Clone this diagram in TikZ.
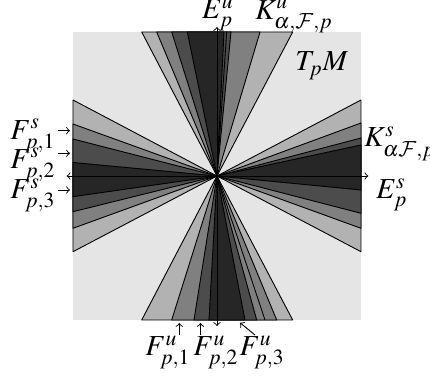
\documentclass[tikz,border=0pt]{standalone}
\usepackage{mathptmx}
\DeclareMathAlphabet{\mathcal}{OMS}{cmsy}{m}{n}
\DeclareMathSizes{14.5}{14.5}{10.8}{8.5}
\definecolor{bg}{gray}{0.9}
\definecolor{ca}{gray}{0.7}
\definecolor{cb}{gray}{0.5}
\definecolor{cc}{gray}{0.3}
\definecolor{cd}{gray}{0.15}
\begin{document}
\begin{tikzpicture}[x=0.5pt,y=-0.5pt,
  lab/.style={inner sep=0pt, anchor=base west, font=\fontsize{14.5}{16}\selectfont},
  cone/.style={draw=black, line width=0.45pt, line join=round},
  axis/.style={draw=black, line width=0.45pt, <->},
  pt/.style={draw=black, line width=0.45pt, ->}]
\useasboundingbox (0,0) rectangle (430,379);
\fill[bg] (73,32) rectangle (361,320);
\coordinate (C) at (217,176);
% top cone
\foreach \col/\a/\b in {ca/-75.3/75.7, cb/-60.3/43, cc/-45.3/14, cd/-29.7/7}
  \filldraw[cone,fill=\col] (C) -- +(\a,-144) -- +(\b,-144) -- cycle;
\draw[cone] (C) -- +(9.7,-144);
% bottom cone
\foreach \col/\a/\b in {ca/-75.3/75.7, cb/-45.3/59.7, cc/-23/39.7, cd/-8/28}
  \filldraw[cone,fill=\col] (C) -- +(\a,144) -- +(\b,144) -- cycle;
\draw[cone] (C) -- +(48,144);
% left cone
\foreach \col/\a/\b in {ca/-76/75.7, cb/-52/52.3, cc/-37/35.7, cd/-13.5/20.7}
  \filldraw[cone,fill=\col] (C) -- +(-144,\a) -- +(-144,\b) -- cycle;
% right cone
\foreach \col/\a/\b in {ca/-76/75.7, cb/-53/52.3, cc/-38/37.3, cd/-31/14}
  \filldraw[cone,fill=\col] (C) -- +(144,\a) -- +(144,\b) -- cycle;
% axes
\coordinate (vt) at (217,27);
\coordinate (vb) at (217,326);
\coordinate (hl) at (66.7,176);
\coordinate (hr) at (368.3,176);
\draw[axis] (vb) -- (vt);
\draw[axis] (hl) -- (hr);
% labels
\node[lab] (Eu) at (201.7,19) {$E^u_p$};
\node[lab] (Ku) at (255,19.5) {$K^u_{\alpha,\mathcal{F},p}$};
\node[lab] (TM) at (295,70.7) {$T_pM$};
\node[lab] (Ks) at (364,147) {$K^s_{\alpha\mathcal{F},p}$};
\node[lab] (Es) at (376,199) {$E^s_p$};
\node[lab] (Fs1) at (10,139.3) {$F^s_{p,1}$};
\node[lab] (Fs2) at (10,168.5) {$F^s_{p,2}$};
\node[lab] (Fs3) at (10,199) {$F^s_{p,3}$};
\node[lab] (Fu1) at (145,356) {$F^u_{p,1}$};
\node[lab] (Fu2) at (193,356) {$F^u_{p,2}$};
\node[lab] (Fu3) at (239.3,356) {$F^u_{p,3}$};
% pointer arrows
\coordinate (s1a) at (58.3,130.7); \coordinate (s1b) at (70,130.7);
\coordinate (s2a) at (58.3,153.3); \coordinate (s2b) at (70,153.3);
\coordinate (s3a) at (58.3,190);   \coordinate (s3b) at (70,190);
\coordinate (u1a) at (179.3,335);  \coordinate (u1b) at (179.3,323);
\coordinate (u2a) at (200.5,335);  \coordinate (u2b) at (200.5,323);
\coordinate (u3a) at (255,335);    \coordinate (u3b) at (240,322.7);
\draw[pt] (s1a) -- (s1b);
\draw[pt] (s2a) -- (s2b);
\draw[pt] (s3a) -- (s3b);
\draw[pt] (u1a) -- (u1b);
\draw[pt] (u2a) -- (u2b);
\draw[pt] (u3a) -- (u3b);
\end{tikzpicture}
\end{document}
